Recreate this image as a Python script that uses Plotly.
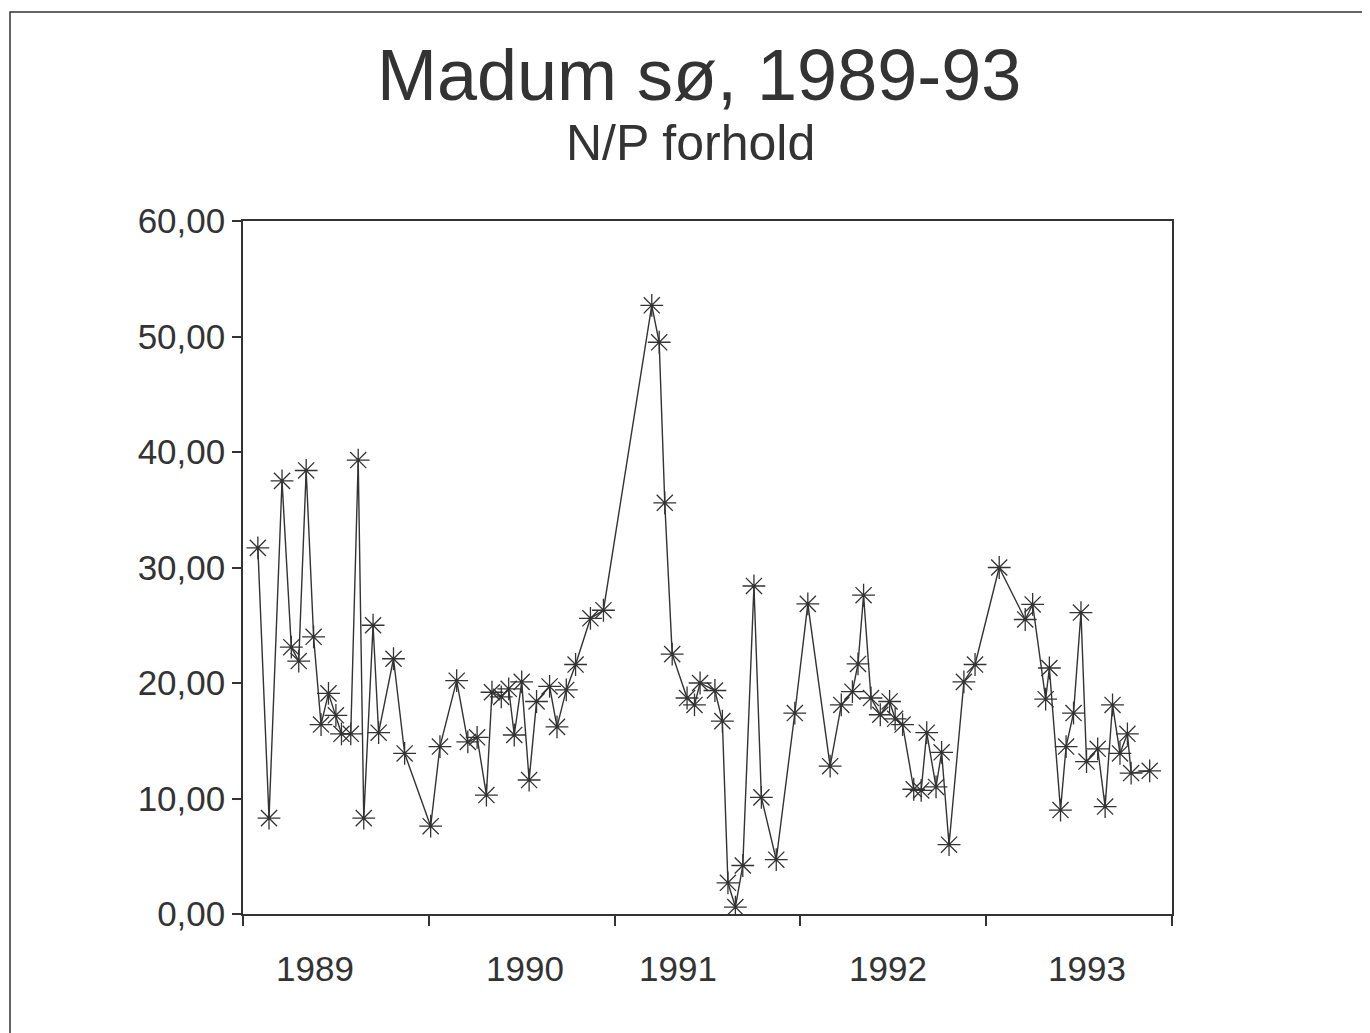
import plotly.graph_objects as go

# decimal year of each sample
sample_time = [
    1989.08, 1989.14, 1989.21, 1989.26, 1989.30, 1989.34, 1989.38, 1989.42, 1989.46, 1989.50,
    1989.53, 1989.58, 1989.62, 1989.65, 1989.70, 1989.73, 1989.81, 1989.87, 1990.01, 1990.06,
    1990.15, 1990.21, 1990.26, 1990.31, 1990.34, 1990.39, 1990.43, 1990.46, 1990.50, 1990.54,
    1990.58, 1990.65, 1990.69, 1990.74, 1990.79, 1990.87, 1990.94, 1991.20, 1991.24, 1991.27,
    1991.31, 1991.39, 1991.43, 1991.46, 1991.54, 1991.58, 1991.61, 1991.65, 1991.69, 1991.75,
    1991.79, 1991.87, 1991.97, 1992.04, 1992.16, 1992.22, 1992.28, 1992.31, 1992.34, 1992.38,
    1992.43, 1992.48, 1992.51, 1992.55, 1992.61, 1992.65, 1992.68, 1992.73, 1992.76, 1992.80,
    1992.88, 1992.94, 1993.07, 1993.21, 1993.25, 1993.32, 1993.34, 1993.40, 1993.43, 1993.47,
    1993.51, 1993.54, 1993.60, 1993.64, 1993.68, 1993.72, 1993.76, 1993.78, 1993.88,
]
# N/P ratio
np_ratio = [
    31.7, 8.3, 37.5, 23.1, 21.9, 38.4, 24.0, 16.4, 19.1, 17.2,
    15.6, 15.6, 39.3, 8.3, 25.0, 15.7, 22.1, 13.9, 7.6, 14.5,
    20.2, 14.9, 15.3, 10.3, 19.2, 18.8, 19.5, 15.5, 20.1, 11.6,
    18.4, 19.7, 16.2, 19.4, 21.6, 25.6, 26.3, 52.7, 49.5, 35.6,
    22.5, 18.7, 18.1, 20.0, 19.35, 16.7, 2.7, 0.6, 4.2, 28.4,
    10.1, 4.7, 17.4, 26.85, 12.8, 18.1, 19.25, 21.65, 27.6, 18.7,
    17.25, 18.4, 16.9, 16.4, 10.8, 10.7, 15.7, 11.0, 14.0, 6.0,
    20.1, 21.6, 30.0, 25.5, 26.8, 18.6, 21.3, 9.0, 14.5, 17.4,
    26.1, 13.2, 14.3, 9.3, 18.1, 13.9, 15.6, 12.2, 12.4,
]

year_labels = ["1989", "1990", "1991", "1992", "1993"]
year_label_pos = [1989.39, 1990.52, 1991.34, 1992.47, 1993.54]
year_ticks = [1989, 1990, 1991, 1992, 1993, 1994]
y_ticks = [0, 10, 20, 30, 40, 50, 60]

INK = "#333333"
FONT = "Liberation Sans, Arial, Helvetica, sans-serif"

fig = go.Figure()
fig.add_trace(go.Scatter(
    x=sample_time, y=np_ratio, mode="lines+markers",
    line=dict(color=INK, width=1.4),
    marker=dict(symbol="asterisk-open", size=19, color=INK, line=dict(color=INK, width=1.3)),
    showlegend=False, hoverinfo="x+y",
))

for lab, pos in zip(year_labels, year_label_pos):
    fig.add_annotation(x=pos, y=-0.078, xref="x", yref="paper", text=lab, showarrow=False,
                       font=dict(family=FONT, size=35, color=INK), xanchor="center", yanchor="middle")

fig.add_annotation(x=0.491, y=1.211, xref="paper", yref="paper", text="Madum sø, 1989-93",
                   showarrow=False, font=dict(family=FONT, size=72, color=INK),
                   xanchor="center", yanchor="middle")
fig.add_annotation(x=0.482, y=1.112, xref="paper", yref="paper", text="N/P forhold",
                   showarrow=False, font=dict(family=FONT, size=50, color=INK),
                   xanchor="center", yanchor="middle")

# outer frame (only left and top edges are visible in the scan)
fig.add_shape(type="rect", xref="paper", yref="paper", x0=-0.2508, x1=1.3, y0=-0.25, y1=1.3016,
              line=dict(color=INK, width=1.5), layer="below")

fig.update_layout(
    width=1370, height=1033,
    margin=dict(l=235, r=206, t=213, b=127),
    paper_bgcolor="white", plot_bgcolor="white",
    separators=",.",
    font=dict(family=FONT, color=INK),
    xaxis=dict(range=[1989, 1994], tickvals=year_ticks, showticklabels=False,
               ticks="outside", ticklen=10, tickwidth=1.5, tickcolor=INK,
               showline=True, linecolor=INK, linewidth=1.5, mirror=True,
               showgrid=False, zeroline=False),
    yaxis=dict(range=[0, 60], tickvals=y_ticks, tickformat=".2f",
               ticks="outside", ticklen=9, tickwidth=1.5, tickcolor=INK,
               tickfont=dict(family=FONT, size=35, color=INK),
               showline=True, linecolor=INK, linewidth=1.5, mirror=True,
               showgrid=False, zeroline=False),
)

fig.write_html("out.html")
